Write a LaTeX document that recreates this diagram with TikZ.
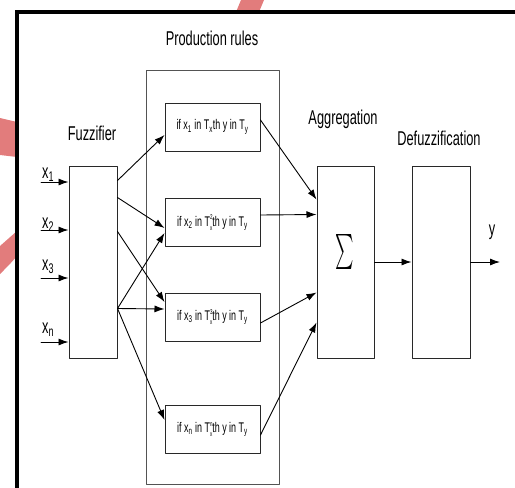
\documentclass[tikz,border=0pt]{standalone}
\usepackage{fontspec}
\setmainfont{Liberation Sans}[FakeStretch=0.64]
\usepackage{graphicx}
\usepackage{tikz}
\usetikzlibrary{calc}
\usetikzlibrary{arrows.meta}
\definecolor{wmark}{RGB}{226,124,124}
\definecolor{boxline}{RGB}{40,40,40}
\newcommand{\Tsx}[1]{T\rlap{\raisebox{6.5pt}{\fontsize{7}{7}\selectfont #1}}\raisebox{-4pt}{\fontsize{7}{7}\selectfont x}}

\begin{document}
\begin{tikzpicture}[x=1pt,y=-1pt,>={Latex[length=10pt,width=7pt]},line cap=round,line join=round,
  block/.style={draw=boxline,line width=1pt,minimum width=#1,minimum height=192pt,inner sep=0pt},
  rulebox/.style={draw=boxline,line width=1pt,minimum width=95pt,minimum height=48pt,inner sep=0pt,font=\fontsize{14}{14}\selectfont},
  lbl/.style={anchor=base,inner sep=0pt,font=\fontsize{20}{20}\selectfont},
  wire/.style={->,line width=0.9pt}]
  \useasboundingbox (0,0) rectangle (515,488);
  \clip (0,0) rectangle (515,488);

  % watermark
  \fill[wmark] (241,0) -- (264,0) -- (259,12) -- (236,12) -- cycle;
  \fill[wmark] (0,118) -- (17,122) -- (17,157) -- (0,155) -- cycle;
  \fill[wmark] (17,231) -- (17,256) .. controls (10,264) .. (0,274) -- (0,246) -- cycle;

  % frame
  \draw[line width=4pt,line join=miter] (17,560) -- (17,12) -- (560,12);

  % blocks
  \node[block=48pt] (fuzz) at (93,262) {};
  \node[draw=boxline!80,line width=1pt,minimum width=133pt,minimum height=414pt] (prod) at (212.5,277) {};
  \node[rulebox] (r1) at (212.5,127) {if x\textsubscript{1} in T\textsubscript{x}th y in T\textsubscript{y}};
  \node[rulebox] (r2) at (212.5,222.5) {if x\textsubscript{2} in \Tsx{2}th y in T\textsubscript{y}};
  \node[rulebox] (r3) at (212.5,317) {if x\textsubscript{3} in \Tsx{3}th y in T\textsubscript{y}};
  \node[rulebox] (r4) at (212.5,429.5) {if x\textsubscript{n} in \Tsx{n}th y in T\textsubscript{y}};
  \node[block=57pt] (agg) at (345.5,262) {};
  \node[block=58pt] (defuzz) at (441,262) {};
  \node (sigma) at (345,252) {\scalebox{1.75}[3.5]{$\sum$}};

  % labels
  \node[lbl] (prodlbl) at (212,45) {Production rules};
  \node[lbl] (fuzzlbl) at (92,140) {Fuzzifier};
  \node[lbl] (agglbl) at (343,124) {Aggregation};
  \node[lbl] (defuzzlbl) at (439,145) {Defuzzification};
  \node[lbl] (ylbl) at (492,235) {y};

  % inputs
  \foreach \i/\s/\yy/\by in {1/1/182/178, 2/2/230/228, 3/3/278/270, 4/n/342/333} {
    \coordinate (in\i) at (41,\yy);
    \node[lbl,anchor=base west] (x\i) at (42,\by) {x\textsubscript{\s}};
    \draw[wire] (in\i) -- (in\i -| fuzz.west);
  }

  % fuzzifier to rules
  \coordinate (f1) at ([yshift=-15pt]fuzz.north east);
  \coordinate (f2) at ([yshift=-32pt]fuzz.north east);
  \coordinate (f3) at ([yshift=-66pt]fuzz.north east);
  \coordinate (f4) at ([yshift=-143pt]fuzz.north east);
  \draw[wire] (f1) -- ([yshift=-8pt]r1.west);
  \draw[wire] (f2) -- ([yshift=-5.5pt]r2.west);
  \draw[wire] (f3) -- ([yshift=15pt]r3.west);
  \draw[wire] (f4) -- ([yshift=-10.5pt]r2.west);
  \draw[wire] (f4) -- ([yshift=8pt]r3.west);
  \draw[wire] (f4) -- ([yshift=9.5pt]r4.west);

  % rules to aggregation
  \draw[wire] ([yshift=7pt]r1.east) -- ([yshift=-34pt]agg.north west);
  \draw[wire] ([yshift=7.5pt]r2.east) -- ([yshift=-49pt]agg.north west);
  \draw[wire] ([yshift=-6pt]r3.east) -- ([yshift=-127pt]agg.north west);
  \draw[wire] ([yshift=-5.5pt]r4.east) -- ([yshift=-157pt]agg.north west);

  % output
  \coordinate (yout) at (500,262);
  \draw[wire] (agg.east) -- (defuzz.west);
  \draw[wire] (defuzz.east) -- (yout);
\end{tikzpicture}
\end{document}
